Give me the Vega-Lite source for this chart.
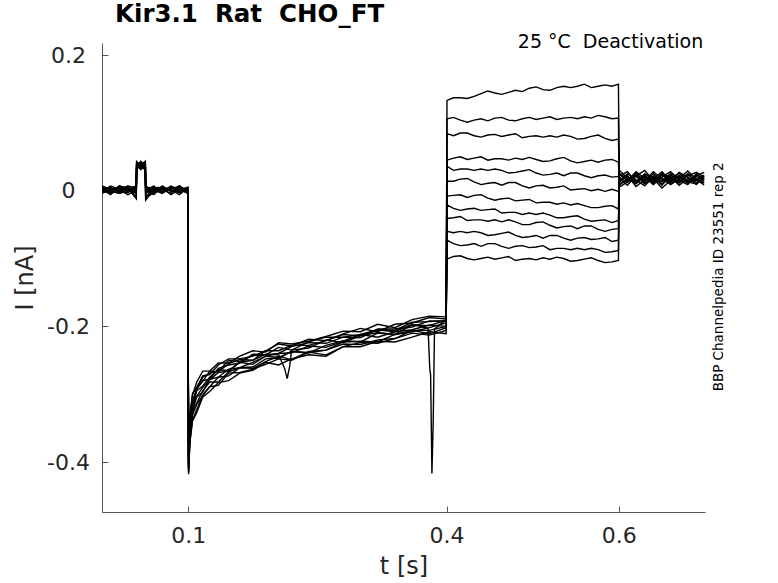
{
  "$schema": "https://vega.github.io/schema/vega-lite/v6.json",
  "autosize": "none",
  "width": 603,
  "height": 469,
  "padding": {"left": 102, "top": 43, "right": 73, "bottom": 71},
  "background": "white",
  "config": {"view": {"stroke": null}, "font": "DejaVu Sans"},
  "title": {
    "text": "Kir3.1\u00a0\u00a0Rat\u00a0\u00a0CHO_FT",
    "anchor": "start",
    "frame": "group",
    "dx": 13,
    "dy": 30,
    "offset": 16,
    "baseline": "alphabetic",
    "font": "DejaVu Sans",
    "fontSize": 24.5,
    "fontWeight": "bold",
    "color": "#000000"
  },
  "layer": [
    {
      "data": {"values": [
        {"k":1,"t":0,"i":0.002},{"k":1,"t":0.01,"i":-0.003},{"k":1,"t":0.02,"i":0.005},{"k":1,"t":0.03,"i":-0.001},{"k":1,"t":0.0398,"i":0.004},{"k":1,"t":0.0402,"i":0.039},{"k":1,"t":0.045,"i":0.033},{"k":1,"t":0.0503,"i":0.041},{"k":1,"t":0.0507,"i":-0.012},{"k":1,"t":0.06,"i":0.004},{"k":1,"t":0.07,"i":-0.001},{"k":1,"t":0.08,"i":0.007},{"k":1,"t":0.09,"i":0.001},{"k":1,"t":0.0995,"i":-0.003},
        {"k":1,"t":0.1005,"i":-0.398},{"k":1,"t":0.102,"i":-0.338},{"k":1,"t":0.105,"i":-0.299},{"k":1,"t":0.11,"i":-0.29},{"k":1,"t":0.117,"i":-0.273},{"k":1,"t":0.125,"i":-0.271},{"k":1,"t":0.135,"i":-0.257},{"k":1,"t":0.147,"i":-0.248},{"k":1,"t":0.16,"i":-0.248},{"k":1,"t":0.175,"i":-0.244},{"k":1,"t":0.19,"i":-0.236},{"k":1,"t":0.205,"i":-0.226},{"k":1,"t":0.22,"i":-0.229},{"k":1,"t":0.24,"i":-0.219},{"k":1,"t":0.26,"i":-0.221},{"k":1,"t":0.28,"i":-0.211},{"k":1,"t":0.3,"i":-0.203},{"k":1,"t":0.32,"i":-0.208},{"k":1,"t":0.34,"i":-0.197},{"k":1,"t":0.36,"i":-0.195},{"k":1,"t":0.38,"i":-0.187},{"k":1,"t":0.3995,"i":-0.189},
        {"k":1,"t":0.4005,"i":0.133},{"k":1,"t":0.408,"i":0.137},{"k":1,"t":0.416,"i":0.137},{"k":1,"t":0.424,"i":0.136},{"k":1,"t":0.432,"i":0.139},{"k":1,"t":0.44,"i":0.143},{"k":1,"t":0.448,"i":0.147},{"k":1,"t":0.456,"i":0.144},{"k":1,"t":0.464,"i":0.142},{"k":1,"t":0.472,"i":0.145},{"k":1,"t":0.48,"i":0.148},{"k":1,"t":0.488,"i":0.146},{"k":1,"t":0.496,"i":0.151},{"k":1,"t":0.504,"i":0.153},{"k":1,"t":0.512,"i":0.149},{"k":1,"t":0.52,"i":0.148},{"k":1,"t":0.528,"i":0.152},{"k":1,"t":0.536,"i":0.154},{"k":1,"t":0.544,"i":0.152},{"k":1,"t":0.552,"i":0.154},{"k":1,"t":0.56,"i":0.157},{"k":1,"t":0.568,"i":0.152},{"k":1,"t":0.576,"i":0.154},{"k":1,"t":0.584,"i":0.156},{"k":1,"t":0.592,"i":0.154},{"k":1,"t":0.5995,"i":0.157},
        {"k":1,"t":0.6005,"i":0.02},{"k":1,"t":0.61,"i":0.012},{"k":1,"t":0.62,"i":0.025},{"k":1,"t":0.63,"i":0.015},{"k":1,"t":0.64,"i":0.022},{"k":1,"t":0.65,"i":0.01},{"k":1,"t":0.66,"i":0.018},{"k":1,"t":0.67,"i":0.026},{"k":1,"t":0.68,"i":0.014},{"k":1,"t":0.69,"i":0.021},{"k":1,"t":0.699,"i":0.016},

        {"k":2,"t":0,"i":-0.003},{"k":2,"t":0.01,"i":0.004},{"k":2,"t":0.02,"i":-0.001},{"k":2,"t":0.03,"i":0.007},{"k":2,"t":0.0398,"i":-0.01},{"k":2,"t":0.0402,"i":0.035},{"k":2,"t":0.045,"i":0.043},{"k":2,"t":0.0503,"i":0.037},{"k":2,"t":0.0507,"i":0.001},{"k":2,"t":0.06,"i":-0.006},{"k":2,"t":0.07,"i":0.005},{"k":2,"t":0.08,"i":-0.001},{"k":2,"t":0.09,"i":0.002},{"k":2,"t":0.0995,"i":0.004},
        {"k":2,"t":0.1005,"i":-0.412},{"k":2,"t":0.102,"i":-0.362},{"k":2,"t":0.105,"i":-0.331},{"k":2,"t":0.11,"i":-0.315},{"k":2,"t":0.117,"i":-0.302},{"k":2,"t":0.125,"i":-0.289},{"k":2,"t":0.135,"i":-0.275},{"k":2,"t":0.147,"i":-0.273},{"k":2,"t":0.16,"i":-0.261},{"k":2,"t":0.175,"i":-0.262},{"k":2,"t":0.19,"i":-0.252},{"k":2,"t":0.205,"i":-0.244},{"k":2,"t":0.22,"i":-0.249},{"k":2,"t":0.24,"i":-0.237},{"k":2,"t":0.26,"i":-0.235},{"k":2,"t":0.28,"i":-0.226},{"k":2,"t":0.3,"i":-0.227},{"k":2,"t":0.32,"i":-0.22},{"k":2,"t":0.34,"i":-0.218},{"k":2,"t":0.36,"i":-0.206},{"k":2,"t":0.38,"i":-0.211},{"k":2,"t":0.3995,"i":-0.202},
        {"k":2,"t":0.4005,"i":0.106},{"k":2,"t":0.408,"i":0.108},{"k":2,"t":0.416,"i":0.104},{"k":2,"t":0.424,"i":0.101},{"k":2,"t":0.432,"i":0.104},{"k":2,"t":0.44,"i":0.106},{"k":2,"t":0.448,"i":0.103},{"k":2,"t":0.456,"i":0.107},{"k":2,"t":0.464,"i":0.108},{"k":2,"t":0.472,"i":0.104},{"k":2,"t":0.48,"i":0.103},{"k":2,"t":0.488,"i":0.106},{"k":2,"t":0.496,"i":0.108},{"k":2,"t":0.504,"i":0.105},{"k":2,"t":0.512,"i":0.107},{"k":2,"t":0.52,"i":0.109},{"k":2,"t":0.528,"i":0.105},{"k":2,"t":0.536,"i":0.107},{"k":2,"t":0.544,"i":0.108},{"k":2,"t":0.552,"i":0.106},{"k":2,"t":0.56,"i":0.109},{"k":2,"t":0.568,"i":0.107},{"k":2,"t":0.576,"i":0.111},{"k":2,"t":0.584,"i":0.109},{"k":2,"t":0.592,"i":0.106},{"k":2,"t":0.5995,"i":0.107},
        {"k":2,"t":0.6005,"i":0.008},{"k":2,"t":0.61,"i":0.018},{"k":2,"t":0.62,"i":0.01},{"k":2,"t":0.63,"i":0.022},{"k":2,"t":0.64,"i":0.013},{"k":2,"t":0.65,"i":0.019},{"k":2,"t":0.66,"i":0.009},{"k":2,"t":0.67,"i":0.017},{"k":2,"t":0.68,"i":0.024},{"k":2,"t":0.69,"i":0.012},{"k":2,"t":0.699,"i":0.019},

        {"k":3,"t":0,"i":0.005},{"k":3,"t":0.01,"i":-0.001},{"k":3,"t":0.02,"i":-0.004},{"k":3,"t":0.03,"i":0.002},{"k":3,"t":0.0398,"i":0.007},{"k":3,"t":0.0402,"i":0.041},{"k":3,"t":0.045,"i":0.035},{"k":3,"t":0.0503,"i":0.031},{"k":3,"t":0.0507,"i":0.004},{"k":3,"t":0.06,"i":0.001},{"k":3,"t":0.07,"i":-0.004},{"k":3,"t":0.08,"i":0.005},{"k":3,"t":0.09,"i":-0.003},{"k":3,"t":0.0995,"i":0.002},
        {"k":3,"t":0.1005,"i":-0.405},{"k":3,"t":0.102,"i":-0.343},{"k":3,"t":0.105,"i":-0.32},{"k":3,"t":0.11,"i":-0.295},{"k":3,"t":0.117,"i":-0.288},{"k":3,"t":0.125,"i":-0.275},{"k":3,"t":0.135,"i":-0.264},{"k":3,"t":0.147,"i":-0.265},{"k":3,"t":0.16,"i":-0.253},{"k":3,"t":0.175,"i":-0.25},{"k":3,"t":0.19,"i":-0.241},{"k":3,"t":0.205,"i":-0.242},{"k":3,"t":0.212,"i":-0.262},{"k":3,"t":0.215,"i":-0.277},{"k":3,"t":0.218,"i":-0.258},{"k":3,"t":0.22,"i":-0.235},{"k":3,"t":0.24,"i":-0.232},{"k":3,"t":0.26,"i":-0.22},{"k":3,"t":0.28,"i":-0.224},{"k":3,"t":0.3,"i":-0.214},{"k":3,"t":0.32,"i":-0.209},{"k":3,"t":0.34,"i":-0.212},{"k":3,"t":0.36,"i":-0.198},{"k":3,"t":0.38,"i":-0.199},{"k":3,"t":0.3995,"i":-0.191},
        {"k":3,"t":0.4005,"i":0.084},{"k":3,"t":0.408,"i":0.081},{"k":3,"t":0.416,"i":0.085},{"k":3,"t":0.424,"i":0.085},{"k":3,"t":0.432,"i":0.081},{"k":3,"t":0.44,"i":0.079},{"k":3,"t":0.448,"i":0.082},{"k":3,"t":0.456,"i":0.083},{"k":3,"t":0.464,"i":0.08},{"k":3,"t":0.472,"i":0.082},{"k":3,"t":0.48,"i":0.084},{"k":3,"t":0.488,"i":0.078},{"k":3,"t":0.496,"i":0.08},{"k":3,"t":0.504,"i":0.081},{"k":3,"t":0.512,"i":0.079},{"k":3,"t":0.52,"i":0.081},{"k":3,"t":0.528,"i":0.079},{"k":3,"t":0.536,"i":0.082},{"k":3,"t":0.544,"i":0.08},{"k":3,"t":0.552,"i":0.076},{"k":3,"t":0.56,"i":0.077},{"k":3,"t":0.568,"i":0.08},{"k":3,"t":0.576,"i":0.082},{"k":3,"t":0.584,"i":0.077},{"k":3,"t":0.592,"i":0.074},{"k":3,"t":0.5995,"i":0.076},
        {"k":3,"t":0.6005,"i":0.024},{"k":3,"t":0.61,"i":0.015},{"k":3,"t":0.62,"i":0.028},{"k":3,"t":0.63,"i":0.018},{"k":3,"t":0.64,"i":0.012},{"k":3,"t":0.65,"i":0.023},{"k":3,"t":0.66,"i":0.017},{"k":3,"t":0.67,"i":0.011},{"k":3,"t":0.68,"i":0.022},{"k":3,"t":0.69,"i":0.027},{"k":3,"t":0.699,"i":0.02},

        {"k":4,"t":0,"i":-0.001},{"k":4,"t":0.01,"i":0.007},{"k":4,"t":0.02,"i":0.002},{"k":4,"t":0.03,"i":-0.006},{"k":4,"t":0.0398,"i":0.001},{"k":4,"t":0.0402,"i":0.033},{"k":4,"t":0.045,"i":0.039},{"k":4,"t":0.0503,"i":0.043},{"k":4,"t":0.0507,"i":-0.01},{"k":4,"t":0.06,"i":0.005},{"k":4,"t":0.07,"i":0.002},{"k":4,"t":0.08,"i":-0.004},{"k":4,"t":0.09,"i":0.007},{"k":4,"t":0.0995,"i":-0.001},
        {"k":4,"t":0.1005,"i":-0.418},{"k":4,"t":0.102,"i":-0.371},{"k":4,"t":0.105,"i":-0.34},{"k":4,"t":0.11,"i":-0.327},{"k":4,"t":0.117,"i":-0.304},{"k":4,"t":0.125,"i":-0.296},{"k":4,"t":0.135,"i":-0.283},{"k":4,"t":0.147,"i":-0.28},{"k":4,"t":0.16,"i":-0.269},{"k":4,"t":0.175,"i":-0.265},{"k":4,"t":0.19,"i":-0.253},{"k":4,"t":0.205,"i":-0.257},{"k":4,"t":0.22,"i":-0.248},{"k":4,"t":0.24,"i":-0.242},{"k":4,"t":0.26,"i":-0.244},{"k":4,"t":0.28,"i":-0.23},{"k":4,"t":0.3,"i":-0.23},{"k":4,"t":0.32,"i":-0.222},{"k":4,"t":0.34,"i":-0.223},{"k":4,"t":0.36,"i":-0.216},{"k":4,"t":0.38,"i":-0.208},{"k":4,"t":0.3995,"i":-0.211},
        {"k":4,"t":0.4005,"i":0.045},{"k":4,"t":0.408,"i":0.048},{"k":4,"t":0.416,"i":0.05},{"k":4,"t":0.424,"i":0.046},{"k":4,"t":0.432,"i":0.048},{"k":4,"t":0.44,"i":0.05},{"k":4,"t":0.448,"i":0.045},{"k":4,"t":0.456,"i":0.047},{"k":4,"t":0.464,"i":0.047},{"k":4,"t":0.472,"i":0.045},{"k":4,"t":0.48,"i":0.048},{"k":4,"t":0.488,"i":0.046},{"k":4,"t":0.496,"i":0.049},{"k":4,"t":0.504,"i":0.046},{"k":4,"t":0.512,"i":0.043},{"k":4,"t":0.52,"i":0.044},{"k":4,"t":0.528,"i":0.047},{"k":4,"t":0.536,"i":0.049},{"k":4,"t":0.544,"i":0.044},{"k":4,"t":0.552,"i":0.041},{"k":4,"t":0.56,"i":0.043},{"k":4,"t":0.568,"i":0.045},{"k":4,"t":0.576,"i":0.042},{"k":4,"t":0.584,"i":0.045},{"k":4,"t":0.592,"i":0.046},{"k":4,"t":0.5995,"i":0.042},
        {"k":4,"t":0.6005,"i":0.014},{"k":4,"t":0.61,"i":0.022},{"k":4,"t":0.62,"i":0.006},{"k":4,"t":0.63,"i":0.016},{"k":4,"t":0.64,"i":0.025},{"k":4,"t":0.65,"i":0.013},{"k":4,"t":0.66,"i":0.021},{"k":4,"t":0.67,"i":0.008},{"k":4,"t":0.68,"i":0.018},{"k":4,"t":0.69,"i":0.015},{"k":4,"t":0.699,"i":0.023},

        {"k":5,"t":0,"i":0.004},{"k":5,"t":0.01,"i":-0.004},{"k":5,"t":0.02,"i":0.007},{"k":5,"t":0.03,"i":0.001},{"k":5,"t":0.0398,"i":-0.003},{"k":5,"t":0.0402,"i":0.043},{"k":5,"t":0.045,"i":0.037},{"k":5,"t":0.0503,"i":0.035},{"k":5,"t":0.0507,"i":0.005},{"k":5,"t":0.06,"i":-0.001},{"k":5,"t":0.07,"i":0.004},{"k":5,"t":0.08,"i":0.001},{"k":5,"t":0.09,"i":-0.006},{"k":5,"t":0.0995,"i":0.005},
        {"k":5,"t":0.1005,"i":-0.402},{"k":5,"t":0.102,"i":-0.339},{"k":5,"t":0.105,"i":-0.314},{"k":5,"t":0.11,"i":-0.292},{"k":5,"t":0.117,"i":-0.281},{"k":5,"t":0.125,"i":-0.266},{"k":5,"t":0.135,"i":-0.267},{"k":5,"t":0.147,"i":-0.255},{"k":5,"t":0.16,"i":-0.249},{"k":5,"t":0.175,"i":-0.25},{"k":5,"t":0.19,"i":-0.236},{"k":5,"t":0.205,"i":-0.236},{"k":5,"t":0.22,"i":-0.228},{"k":5,"t":0.24,"i":-0.228},{"k":5,"t":0.26,"i":-0.221},{"k":5,"t":0.28,"i":-0.212},{"k":5,"t":0.3,"i":-0.214},{"k":5,"t":0.32,"i":-0.205},{"k":5,"t":0.34,"i":-0.208},{"k":5,"t":0.36,"i":-0.197},{"k":5,"t":0.3785,"i":-0.203},{"k":5,"t":0.3805,"i":-0.262},{"k":5,"t":0.3815,"i":-0.272},{"k":5,"t":0.383,"i":-0.417},{"k":5,"t":0.3845,"i":-0.34},{"k":5,"t":0.386,"i":-0.204},{"k":5,"t":0.3995,"i":-0.19},
        {"k":5,"t":0.4005,"i":0.036},{"k":5,"t":0.408,"i":0.03},{"k":5,"t":0.416,"i":0.032},{"k":5,"t":0.424,"i":0.032},{"k":5,"t":0.432,"i":0.03},{"k":5,"t":0.44,"i":0.032},{"k":5,"t":0.448,"i":0.03},{"k":5,"t":0.456,"i":0.032},{"k":5,"t":0.464,"i":0.03},{"k":5,"t":0.472,"i":0.026},{"k":5,"t":0.48,"i":0.027},{"k":5,"t":0.488,"i":0.029},{"k":5,"t":0.496,"i":0.031},{"k":5,"t":0.504,"i":0.026},{"k":5,"t":0.512,"i":0.023},{"k":5,"t":0.52,"i":0.024},{"k":5,"t":0.528,"i":0.026},{"k":5,"t":0.536,"i":0.022},{"k":5,"t":0.544,"i":0.026},{"k":5,"t":0.552,"i":0.026},{"k":5,"t":0.56,"i":0.022},{"k":5,"t":0.568,"i":0.019},{"k":5,"t":0.576,"i":0.022},{"k":5,"t":0.584,"i":0.023},{"k":5,"t":0.592,"i":0.02},{"k":5,"t":0.5995,"i":0.021},
        {"k":5,"t":0.6005,"i":0.03},{"k":5,"t":0.61,"i":0.019},{"k":5,"t":0.62,"i":0.014},{"k":5,"t":0.63,"i":0.024},{"k":5,"t":0.64,"i":0.009},{"k":5,"t":0.65,"i":0.02},{"k":5,"t":0.66,"i":0.028},{"k":5,"t":0.67,"i":0.016},{"k":5,"t":0.68,"i":0.012},{"k":5,"t":0.69,"i":0.025},{"k":5,"t":0.699,"i":0.014},

        {"k":6,"t":0,"i":0.001},{"k":6,"t":0.01,"i":0.005},{"k":6,"t":0.02,"i":-0.003},{"k":6,"t":0.03,"i":0.004},{"k":6,"t":0.0398,"i":-0.012},{"k":6,"t":0.0402,"i":0.037},{"k":6,"t":0.045,"i":0.031},{"k":6,"t":0.0503,"i":0.039},{"k":6,"t":0.0507,"i":-0.001},{"k":6,"t":0.06,"i":0.007},{"k":6,"t":0.07,"i":-0.003},{"k":6,"t":0.08,"i":0.004},{"k":6,"t":0.09,"i":0.002},{"k":6,"t":0.0995,"i":-0.004},
        {"k":6,"t":0.1005,"i":-0.409},{"k":6,"t":0.102,"i":-0.36},{"k":6,"t":0.105,"i":-0.325},{"k":6,"t":0.11,"i":-0.304},{"k":6,"t":0.117,"i":-0.297},{"k":6,"t":0.125,"i":-0.278},{"k":6,"t":0.135,"i":-0.275},{"k":6,"t":0.147,"i":-0.263},{"k":6,"t":0.16,"i":-0.261},{"k":6,"t":0.175,"i":-0.253},{"k":6,"t":0.19,"i":-0.244},{"k":6,"t":0.205,"i":-0.246},{"k":6,"t":0.22,"i":-0.237},{"k":6,"t":0.24,"i":-0.239},{"k":6,"t":0.26,"i":-0.228},{"k":6,"t":0.28,"i":-0.221},{"k":6,"t":0.3,"i":-0.223},{"k":6,"t":0.32,"i":-0.21},{"k":6,"t":0.34,"i":-0.212},{"k":6,"t":0.36,"i":-0.208},{"k":6,"t":0.38,"i":-0.202},{"k":6,"t":0.3995,"i":-0.195},
        {"k":6,"t":0.4005,"i":0.014},{"k":6,"t":0.408,"i":0.014},{"k":6,"t":0.416,"i":0.017},{"k":6,"t":0.424,"i":0.018},{"k":6,"t":0.432,"i":0.013},{"k":6,"t":0.44,"i":0.009},{"k":6,"t":0.448,"i":0.011},{"k":6,"t":0.456,"i":0.012},{"k":6,"t":0.464,"i":0.008},{"k":6,"t":0.472,"i":0.012},{"k":6,"t":0.48,"i":0.012},{"k":6,"t":0.488,"i":0.007},{"k":6,"t":0.496,"i":0.004},{"k":6,"t":0.504,"i":0.007},{"k":6,"t":0.512,"i":0.008},{"k":6,"t":0.52,"i":0.004},{"k":6,"t":0.528,"i":0.005},{"k":6,"t":0.536,"i":0.007},{"k":6,"t":0.544,"i":0.001},{"k":6,"t":0.552,"i":0.002},{"k":6,"t":0.56,"i":0.003},{"k":6,"t":0.568,"i":0},{"k":6,"t":0.576,"i":0.002},{"k":6,"t":0.584,"i":-0.001},{"k":6,"t":0.592,"i":0.002},{"k":6,"t":0.5995,"i":-0.001},
        {"k":6,"t":0.6005,"i":0.005},{"k":6,"t":0.61,"i":0.013},{"k":6,"t":0.62,"i":0.021},{"k":6,"t":0.63,"i":0.01},{"k":6,"t":0.64,"i":0.018},{"k":6,"t":0.65,"i":0.004},{"k":6,"t":0.66,"i":0.015},{"k":6,"t":0.67,"i":0.022},{"k":6,"t":0.68,"i":0.011},{"k":6,"t":0.69,"i":0.017},{"k":6,"t":0.699,"i":0.008},

        {"k":7,"t":0,"i":-0.004},{"k":7,"t":0.01,"i":0.001},{"k":7,"t":0.02,"i":0.004},{"k":7,"t":0.03,"i":0.005},{"k":7,"t":0.0398,"i":-0.001},{"k":7,"t":0.0402,"i":0.035},{"k":7,"t":0.045,"i":0.041},{"k":7,"t":0.0503,"i":0.033},{"k":7,"t":0.0507,"i":0.002},{"k":7,"t":0.06,"i":-0.004},{"k":7,"t":0.07,"i":0.007},{"k":7,"t":0.08,"i":-0.001},{"k":7,"t":0.09,"i":0.005},{"k":7,"t":0.0995,"i":0.001},
        {"k":7,"t":0.1005,"i":-0.392},{"k":7,"t":0.102,"i":-0.329},{"k":7,"t":0.105,"i":-0.302},{"k":7,"t":0.11,"i":-0.282},{"k":7,"t":0.117,"i":-0.266},{"k":7,"t":0.125,"i":-0.266},{"k":7,"t":0.135,"i":-0.254},{"k":7,"t":0.147,"i":-0.254},{"k":7,"t":0.16,"i":-0.244},{"k":7,"t":0.175,"i":-0.236},{"k":7,"t":0.19,"i":-0.238},{"k":7,"t":0.205,"i":-0.224},{"k":7,"t":0.22,"i":-0.226},{"k":7,"t":0.24,"i":-0.222},{"k":7,"t":0.26,"i":-0.215},{"k":7,"t":0.28,"i":-0.207},{"k":7,"t":0.3,"i":-0.208},{"k":7,"t":0.32,"i":-0.197},{"k":7,"t":0.34,"i":-0.202},{"k":7,"t":0.36,"i":-0.19},{"k":7,"t":0.38,"i":-0.185},{"k":7,"t":0.3995,"i":-0.186},
        {"k":7,"t":0.4005,"i":-0.008},{"k":7,"t":0.408,"i":-0.007},{"k":7,"t":0.416,"i":-0.006},{"k":7,"t":0.424,"i":-0.01},{"k":7,"t":0.432,"i":-0.007},{"k":7,"t":0.44,"i":-0.006},{"k":7,"t":0.448,"i":-0.011},{"k":7,"t":0.456,"i":-0.014},{"k":7,"t":0.464,"i":-0.012},{"k":7,"t":0.472,"i":-0.011},{"k":7,"t":0.48,"i":-0.015},{"k":7,"t":0.488,"i":-0.014},{"k":7,"t":0.496,"i":-0.013},{"k":7,"t":0.504,"i":-0.018},{"k":7,"t":0.512,"i":-0.017},{"k":7,"t":0.52,"i":-0.017},{"k":7,"t":0.528,"i":-0.02},{"k":7,"t":0.536,"i":-0.018},{"k":7,"t":0.544,"i":-0.021},{"k":7,"t":0.552,"i":-0.019},{"k":7,"t":0.56,"i":-0.022},{"k":7,"t":0.568,"i":-0.025},{"k":7,"t":0.576,"i":-0.025},{"k":7,"t":0.584,"i":-0.023},{"k":7,"t":0.592,"i":-0.022},{"k":7,"t":0.5995,"i":-0.027},
        {"k":7,"t":0.6005,"i":0.026},{"k":7,"t":0.61,"i":0.017},{"k":7,"t":0.62,"i":0.022},{"k":7,"t":0.63,"i":0.03},{"k":7,"t":0.64,"i":0.015},{"k":7,"t":0.65,"i":0.024},{"k":7,"t":0.66,"i":0.012},{"k":7,"t":0.67,"i":0.027},{"k":7,"t":0.68,"i":0.02},{"k":7,"t":0.69,"i":0.009},{"k":7,"t":0.699,"i":0.022},

        {"k":8,"t":0,"i":0.007},{"k":8,"t":0.01,"i":0.002},{"k":8,"t":0.02,"i":-0.001},{"k":8,"t":0.03,"i":-0.003},{"k":8,"t":0.0398,"i":0.005},{"k":8,"t":0.0402,"i":0.039},{"k":8,"t":0.045,"i":0.035},{"k":8,"t":0.0503,"i":0.043},{"k":8,"t":0.0507,"i":-0.014},{"k":8,"t":0.06,"i":0.002},{"k":8,"t":0.07,"i":0.001},{"k":8,"t":0.08,"i":0.005},{"k":8,"t":0.09,"i":-0.001},{"k":8,"t":0.0995,"i":0.004},
        {"k":8,"t":0.1005,"i":-0.415},{"k":8,"t":0.102,"i":-0.371},{"k":8,"t":0.105,"i":-0.338},{"k":8,"t":0.11,"i":-0.323},{"k":8,"t":0.117,"i":-0.301},{"k":8,"t":0.125,"i":-0.289},{"k":8,"t":0.135,"i":-0.287},{"k":8,"t":0.147,"i":-0.269},{"k":8,"t":0.16,"i":-0.268},{"k":8,"t":0.175,"i":-0.263},{"k":8,"t":0.19,"i":-0.256},{"k":8,"t":0.205,"i":-0.248},{"k":8,"t":0.22,"i":-0.25},{"k":8,"t":0.24,"i":-0.238},{"k":8,"t":0.26,"i":-0.242},{"k":8,"t":0.28,"i":-0.23},{"k":8,"t":0.3,"i":-0.224},{"k":8,"t":0.32,"i":-0.225},{"k":8,"t":0.34,"i":-0.218},{"k":8,"t":0.36,"i":-0.21},{"k":8,"t":0.38,"i":-0.213},{"k":8,"t":0.3995,"i":-0.206},
        {"k":8,"t":0.4005,"i":-0.021},{"k":8,"t":0.408,"i":-0.026},{"k":8,"t":0.416,"i":-0.029},{"k":8,"t":0.424,"i":-0.027},{"k":8,"t":0.432,"i":-0.026},{"k":8,"t":0.44,"i":-0.029},{"k":8,"t":0.448,"i":-0.028},{"k":8,"t":0.456,"i":-0.027},{"k":8,"t":0.464,"i":-0.033},{"k":8,"t":0.472,"i":-0.032},{"k":8,"t":0.48,"i":-0.032},{"k":8,"t":0.488,"i":-0.035},{"k":8,"t":0.496,"i":-0.033},{"k":8,"t":0.504,"i":-0.035},{"k":8,"t":0.512,"i":-0.033},{"k":8,"t":0.52,"i":-0.036},{"k":8,"t":0.528,"i":-0.04},{"k":8,"t":0.536,"i":-0.04},{"k":8,"t":0.544,"i":-0.038},{"k":8,"t":0.552,"i":-0.037},{"k":8,"t":0.56,"i":-0.042},{"k":8,"t":0.568,"i":-0.045},{"k":8,"t":0.576,"i":-0.044},{"k":8,"t":0.584,"i":-0.043},{"k":8,"t":0.592,"i":-0.047},{"k":8,"t":0.5995,"i":-0.044},
        {"k":8,"t":0.6005,"i":0.012},{"k":8,"t":0.61,"i":0.025},{"k":8,"t":0.62,"i":0.016},{"k":8,"t":0.63,"i":0.007},{"k":8,"t":0.64,"i":0.02},{"k":8,"t":0.65,"i":0.014},{"k":8,"t":0.66,"i":0.025},{"k":8,"t":0.67,"i":0.018},{"k":8,"t":0.68,"i":0.029},{"k":8,"t":0.69,"i":0.016},{"k":8,"t":0.699,"i":0.011},

        {"k":9,"t":0,"i":0.002},{"k":9,"t":0.01,"i":-0.006},{"k":9,"t":0.02,"i":0.005},{"k":9,"t":0.03,"i":0.002},{"k":9,"t":0.0398,"i":-0.004},{"k":9,"t":0.0402,"i":0.031},{"k":9,"t":0.045,"i":0.039},{"k":9,"t":0.0503,"i":0.037},{"k":9,"t":0.0507,"i":0.004},{"k":9,"t":0.06,"i":0.005},{"k":9,"t":0.07,"i":-0.003},{"k":9,"t":0.08,"i":0.002},{"k":9,"t":0.09,"i":0.007},{"k":9,"t":0.0995,"i":-0.003},
        {"k":9,"t":0.1005,"i":-0.407},{"k":9,"t":0.102,"i":-0.356},{"k":9,"t":0.105,"i":-0.317},{"k":9,"t":0.11,"i":-0.303},{"k":9,"t":0.117,"i":-0.29},{"k":9,"t":0.125,"i":-0.279},{"k":9,"t":0.135,"i":-0.268},{"k":9,"t":0.147,"i":-0.266},{"k":9,"t":0.16,"i":-0.253},{"k":9,"t":0.175,"i":-0.256},{"k":9,"t":0.19,"i":-0.244},{"k":9,"t":0.205,"i":-0.24},{"k":9,"t":0.22,"i":-0.239},{"k":9,"t":0.24,"i":-0.229},{"k":9,"t":0.26,"i":-0.231},{"k":9,"t":0.28,"i":-0.222},{"k":9,"t":0.3,"i":-0.212},{"k":9,"t":0.32,"i":-0.216},{"k":9,"t":0.34,"i":-0.208},{"k":9,"t":0.36,"i":-0.205},{"k":9,"t":0.38,"i":-0.198},{"k":9,"t":0.3995,"i":-0.2},
        {"k":9,"t":0.4005,"i":-0.041},{"k":9,"t":0.408,"i":-0.04},{"k":9,"t":0.416,"i":-0.038},{"k":9,"t":0.424,"i":-0.044},{"k":9,"t":0.432,"i":-0.043},{"k":9,"t":0.44,"i":-0.043},{"k":9,"t":0.448,"i":-0.045},{"k":9,"t":0.456,"i":-0.043},{"k":9,"t":0.464,"i":-0.046},{"k":9,"t":0.472,"i":-0.043},{"k":9,"t":0.48,"i":-0.046},{"k":9,"t":0.488,"i":-0.05},{"k":9,"t":0.496,"i":-0.05},{"k":9,"t":0.504,"i":-0.047},{"k":9,"t":0.512,"i":-0.046},{"k":9,"t":0.52,"i":-0.051},{"k":9,"t":0.528,"i":-0.055},{"k":9,"t":0.536,"i":-0.053},{"k":9,"t":0.544,"i":-0.052},{"k":9,"t":0.552,"i":-0.056},{"k":9,"t":0.56,"i":-0.052},{"k":9,"t":0.568,"i":-0.052},{"k":9,"t":0.576,"i":-0.057},{"k":9,"t":0.584,"i":-0.06},{"k":9,"t":0.592,"i":-0.057},{"k":9,"t":0.5995,"i":-0.056},
        {"k":9,"t":0.6005,"i":0.018},{"k":9,"t":0.61,"i":0.008},{"k":9,"t":0.62,"i":0.023},{"k":9,"t":0.63,"i":0.014},{"k":9,"t":0.64,"i":0.028},{"k":9,"t":0.65,"i":0.017},{"k":9,"t":0.66,"i":0.01},{"k":9,"t":0.67,"i":0.023},{"k":9,"t":0.68,"i":0.015},{"k":9,"t":0.69,"i":0.022},{"k":9,"t":0.699,"i":0.027},

        {"k":10,"t":0,"i":-0.001},{"k":10,"t":0.01,"i":0.004},{"k":10,"t":0.02,"i":0.001},{"k":10,"t":0.03,"i":0.007},{"k":10,"t":0.0398,"i":0.004},{"k":10,"t":0.0402,"i":0.041},{"k":10,"t":0.045,"i":0.033},{"k":10,"t":0.0503,"i":0.035},{"k":10,"t":0.0507,"i":-0.011},{"k":10,"t":0.06,"i":-0.003},{"k":10,"t":0.07,"i":0.004},{"k":10,"t":0.08,"i":-0.006},{"k":10,"t":0.09,"i":0.002},{"k":10,"t":0.0995,"i":0.005},
        {"k":10,"t":0.1005,"i":-0.4},{"k":10,"t":0.102,"i":-0.342},{"k":10,"t":0.105,"i":-0.316},{"k":10,"t":0.11,"i":-0.29},{"k":10,"t":0.117,"i":-0.28},{"k":10,"t":0.125,"i":-0.278},{"k":10,"t":0.135,"i":-0.262},{"k":10,"t":0.147,"i":-0.257},{"k":10,"t":0.16,"i":-0.254},{"k":10,"t":0.175,"i":-0.241},{"k":10,"t":0.19,"i":-0.242},{"k":10,"t":0.205,"i":-0.24},{"k":10,"t":0.22,"i":-0.23},{"k":10,"t":0.24,"i":-0.224},{"k":10,"t":0.26,"i":-0.225},{"k":10,"t":0.28,"i":-0.216},{"k":10,"t":0.3,"i":-0.217},{"k":10,"t":0.32,"i":-0.204},{"k":10,"t":0.34,"i":-0.204},{"k":10,"t":0.36,"i":-0.201},{"k":10,"t":0.38,"i":-0.192},{"k":10,"t":0.3995,"i":-0.192},
        {"k":10,"t":0.4005,"i":-0.06},{"k":10,"t":0.408,"i":-0.062},{"k":10,"t":0.416,"i":-0.06},{"k":10,"t":0.424,"i":-0.062},{"k":10,"t":0.432,"i":-0.06},{"k":10,"t":0.44,"i":-0.062},{"k":10,"t":0.448,"i":-0.066},{"k":10,"t":0.456,"i":-0.065},{"k":10,"t":0.464,"i":-0.063},{"k":10,"t":0.472,"i":-0.061},{"k":10,"t":0.48,"i":-0.066},{"k":10,"t":0.488,"i":-0.069},{"k":10,"t":0.496,"i":-0.068},{"k":10,"t":0.504,"i":-0.066},{"k":10,"t":0.512,"i":-0.07},{"k":10,"t":0.52,"i":-0.066},{"k":10,"t":0.528,"i":-0.066},{"k":10,"t":0.536,"i":-0.07},{"k":10,"t":0.544,"i":-0.073},{"k":10,"t":0.552,"i":-0.07},{"k":10,"t":0.56,"i":-0.069},{"k":10,"t":0.568,"i":-0.072},{"k":10,"t":0.576,"i":-0.071},{"k":10,"t":0.584,"i":-0.069},{"k":10,"t":0.592,"i":-0.075},{"k":10,"t":0.5995,"i":-0.073},
        {"k":10,"t":0.6005,"i":0.022},{"k":10,"t":0.61,"i":0.028},{"k":10,"t":0.62,"i":0.012},{"k":10,"t":0.63,"i":0.02},{"k":10,"t":0.64,"i":0.009},{"k":10,"t":0.65,"i":0.026},{"k":10,"t":0.66,"i":0.019},{"k":10,"t":0.67,"i":0.013},{"k":10,"t":0.68,"i":0.025},{"k":10,"t":0.69,"i":0.018},{"k":10,"t":0.699,"i":0.012},

        {"k":11,"t":0,"i":0.005},{"k":11,"t":0.01,"i":0.001},{"k":11,"t":0.02,"i":-0.004},{"k":11,"t":0.03,"i":-0.001},{"k":11,"t":0.0398,"i":0.007},{"k":11,"t":0.0402,"i":0.037},{"k":11,"t":0.045,"i":0.043},{"k":11,"t":0.0503,"i":0.031},{"k":11,"t":0.0507,"i":-0.004},{"k":11,"t":0.06,"i":0.004},{"k":11,"t":0.07,"i":0.005},{"k":11,"t":0.08,"i":0.001},{"k":11,"t":0.09,"i":-0.003},{"k":11,"t":0.0995,"i":0.002},
        {"k":11,"t":0.1005,"i":-0.411},{"k":11,"t":0.102,"i":-0.362},{"k":11,"t":0.105,"i":-0.327},{"k":11,"t":0.11,"i":-0.313},{"k":11,"t":0.117,"i":-0.295},{"k":11,"t":0.125,"i":-0.282},{"k":11,"t":0.135,"i":-0.282},{"k":11,"t":0.147,"i":-0.267},{"k":11,"t":0.16,"i":-0.261},{"k":11,"t":0.175,"i":-0.26},{"k":11,"t":0.19,"i":-0.248},{"k":11,"t":0.205,"i":-0.247},{"k":11,"t":0.22,"i":-0.237},{"k":11,"t":0.24,"i":-0.239},{"k":11,"t":0.26,"i":-0.235},{"k":11,"t":0.28,"i":-0.223},{"k":11,"t":0.3,"i":-0.222},{"k":11,"t":0.32,"i":-0.223},{"k":11,"t":0.34,"i":-0.212},{"k":11,"t":0.36,"i":-0.206},{"k":11,"t":0.38,"i":-0.206},{"k":11,"t":0.3995,"i":-0.2},
        {"k":11,"t":0.4005,"i":-0.073},{"k":11,"t":0.408,"i":-0.078},{"k":11,"t":0.416,"i":-0.081},{"k":11,"t":0.424,"i":-0.08},{"k":11,"t":0.432,"i":-0.078},{"k":11,"t":0.44,"i":-0.082},{"k":11,"t":0.448,"i":-0.078},{"k":11,"t":0.456,"i":-0.078},{"k":11,"t":0.464,"i":-0.082},{"k":11,"t":0.472,"i":-0.085},{"k":11,"t":0.48,"i":-0.082},{"k":11,"t":0.488,"i":-0.081},{"k":11,"t":0.496,"i":-0.084},{"k":11,"t":0.504,"i":-0.083},{"k":11,"t":0.512,"i":-0.081},{"k":11,"t":0.52,"i":-0.087},{"k":11,"t":0.528,"i":-0.085},{"k":11,"t":0.536,"i":-0.085},{"k":11,"t":0.544,"i":-0.087},{"k":11,"t":0.552,"i":-0.085},{"k":11,"t":0.56,"i":-0.087},{"k":11,"t":0.568,"i":-0.085},{"k":11,"t":0.576,"i":-0.087},{"k":11,"t":0.584,"i":-0.091},{"k":11,"t":0.592,"i":-0.09},{"k":11,"t":0.5995,"i":-0.088},
        {"k":11,"t":0.6005,"i":0.01},{"k":11,"t":0.61,"i":0.015},{"k":11,"t":0.62,"i":0.026},{"k":11,"t":0.63,"i":0.012},{"k":11,"t":0.64,"i":0.021},{"k":11,"t":0.65,"i":0.008},{"k":11,"t":0.66,"i":0.023},{"k":11,"t":0.67,"i":0.015},{"k":11,"t":0.68,"i":0.009},{"k":11,"t":0.69,"i":0.024},{"k":11,"t":0.699,"i":0.017},

        {"k":12,"t":0,"i":0.001},{"k":12,"t":0.01,"i":-0.003},{"k":12,"t":0.02,"i":0.007},{"k":12,"t":0.03,"i":0.004},{"k":12,"t":0.0398,"i":0.001},{"k":12,"t":0.0402,"i":0.033},{"k":12,"t":0.045,"i":0.037},{"k":12,"t":0.0503,"i":0.041},{"k":12,"t":0.0507,"i":0.007},{"k":12,"t":0.06,"i":-0.001},{"k":12,"t":0.07,"i":0.002},{"k":12,"t":0.08,"i":0.004},{"k":12,"t":0.09,"i":0.004},{"k":12,"t":0.0995,"i":-0.001},
        {"k":12,"t":0.1005,"i":-0.396},{"k":12,"t":0.102,"i":-0.336},{"k":12,"t":0.105,"i":-0.31},{"k":12,"t":0.11,"i":-0.293},{"k":12,"t":0.117,"i":-0.275},{"k":12,"t":0.125,"i":-0.269},{"k":12,"t":0.135,"i":-0.266},{"k":12,"t":0.147,"i":-0.25},{"k":12,"t":0.16,"i":-0.252},{"k":12,"t":0.175,"i":-0.243},{"k":12,"t":0.19,"i":-0.242},{"k":12,"t":0.205,"i":-0.231},{"k":12,"t":0.22,"i":-0.235},{"k":12,"t":0.24,"i":-0.223},{"k":12,"t":0.26,"i":-0.216},{"k":12,"t":0.28,"i":-0.216},{"k":12,"t":0.3,"i":-0.212},{"k":12,"t":0.32,"i":-0.205},{"k":12,"t":0.34,"i":-0.206},{"k":12,"t":0.36,"i":-0.194},{"k":12,"t":0.38,"i":-0.193},{"k":12,"t":0.3995,"i":-0.192},
        {"k":12,"t":0.4005,"i":-0.101},{"k":12,"t":0.408,"i":-0.097},{"k":12,"t":0.416,"i":-0.096},{"k":12,"t":0.424,"i":-0.1},{"k":12,"t":0.432,"i":-0.102},{"k":12,"t":0.44,"i":-0.1},{"k":12,"t":0.448,"i":-0.098},{"k":12,"t":0.456,"i":-0.101},{"k":12,"t":0.464,"i":-0.099},{"k":12,"t":0.472,"i":-0.097},{"k":12,"t":0.48,"i":-0.103},{"k":12,"t":0.488,"i":-0.101},{"k":12,"t":0.496,"i":-0.1},{"k":12,"t":0.504,"i":-0.102},{"k":12,"t":0.512,"i":-0.099},{"k":12,"t":0.52,"i":-0.101},{"k":12,"t":0.528,"i":-0.098},{"k":12,"t":0.536,"i":-0.1},{"k":12,"t":0.544,"i":-0.104},{"k":12,"t":0.552,"i":-0.103},{"k":12,"t":0.56,"i":-0.101},{"k":12,"t":0.568,"i":-0.099},{"k":12,"t":0.576,"i":-0.103},{"k":12,"t":0.584,"i":-0.106},{"k":12,"t":0.592,"i":-0.105},{"k":12,"t":0.5995,"i":-0.103},
        {"k":12,"t":0.6005,"i":0.016},{"k":12,"t":0.61,"i":0.021},{"k":12,"t":0.62,"i":0.011},{"k":12,"t":0.63,"i":0.025},{"k":12,"t":0.64,"i":0.017},{"k":12,"t":0.65,"i":0.028},{"k":12,"t":0.66,"i":0.014},{"k":12,"t":0.67,"i":0.02},{"k":12,"t":0.68,"i":0.013},{"k":12,"t":0.69,"i":0.01},{"k":12,"t":0.699,"i":0.019}
      ]},
      "mark": {"type": "line", "color": "#000000", "strokeWidth": 1.4, "clip": true},
      "encoding": {
        "x": {
          "field": "t",
          "type": "quantitative",
          "scale": {"domain": [0, 0.7], "nice": false, "zero": false},
          "axis": {
            "title": "t [s]",
            "values": [0.1, 0.4, 0.6],
            "format": ".1f",
            "grid": false,
            "tickSize": -6,
            "tickColor": "#555555",
            "domainColor": "#555555",
            "labelColor": "#262626",
            "titleColor": "#262626",
            "labelFont": "DejaVu Sans",
            "titleFont": "DejaVu Sans",
            "labelFontSize": 22,
            "titleFontSize": 24,
            "titleFontWeight": "normal",
            "labelPadding": 19,
            "titlePadding": 8,
            "labelFlush": false
          }
        },
        "y": {
          "field": "i",
          "type": "quantitative",
          "scale": {"domain": [-0.4737, 0.2177], "nice": false, "zero": false},
          "axis": {
            "title": "I [nA]",
            "values": [-0.4, -0.2, 0, 0.2],
            "labelExpr": "datum.value == 0 ? '0' : '' + datum.value",
            "grid": false,
            "tickSize": -6,
            "tickColor": "#555555",
            "domainColor": "#555555",
            "labelColor": "#262626",
            "titleColor": "#262626",
            "labelFont": "DejaVu Sans",
            "titleFont": "DejaVu Sans",
            "labelFontSize": 22,
            "titleFontSize": 24,
            "titleFontWeight": "normal",
            "labelAlign": "center",
            "labelPadding": 40,
            "titlePadding": 9,
            "labelFlush": false
          }
        },
        "detail": {"field": "k", "type": "nominal"}
      }
    },
    {
      "data": {"values": [{"txt": "25 °C\u00a0\u00a0Deactivation"}]},
      "mark": {"type": "text", "align": "right", "baseline": "alphabetic", "font": "DejaVu Sans", "fontSize": 19, "color": "#000000"},
      "encoding": {
        "x": {"datum": 0.698},
        "y": {"datum": 0.211},
        "text": {"field": "txt"}
      }
    },
    {
      "data": {"values": [{"txt": "BBP Channelpedia ID 23551 rep 2"}]},
      "mark": {"type": "text", "align": "center", "baseline": "middle", "angle": 270, "font": "DejaVu Sans", "fontSize": 13.5, "color": "#000000"},
      "encoding": {
        "x": {"datum": 0.7163},
        "y": {"datum": -0.127},
        "text": {"field": "txt"}
      }
    }
  ]
}
